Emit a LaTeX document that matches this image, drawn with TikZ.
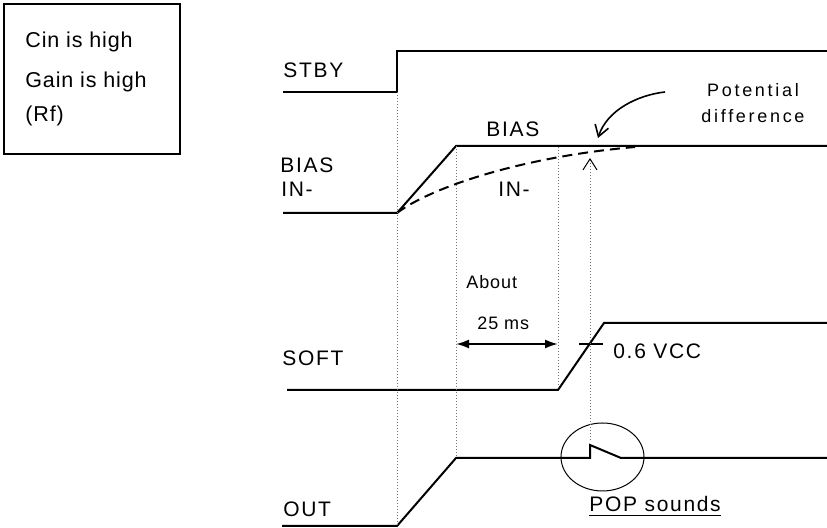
\documentclass[tikz,border=0pt]{standalone}
\usepackage{fontspec}
\setmainfont{Liberation Sans}
\newfontfamily\boxfont[LetterSpace=4]{Liberation Sans}
\newfontfamily\sigfont[LetterSpace=8]{Liberation Sans}
\newfontfamily\notefont[LetterSpace=15]{Liberation Sans}
\newfontfamily\timefont[LetterSpace=5]{Liberation Sans}
\usetikzlibrary{arrows.meta}

\tikzset{
  sig/.style={line width=1pt},
  guide/.style={densely dotted, line width=0.5pt, black!55},
  boxtext/.style={anchor=base west, inner sep=0pt, font=\fontsize{10.75}{13}\boxfont},
  sigtext/.style={anchor=base west, inner sep=0pt, font=\fontsize{10.5}{12}\sigfont},
  notetext/.style={anchor=base west, inner sep=0pt, font=\fontsize{9}{12}\notefont},
}

\begin{document}
\begin{tikzpicture}[x=0.5pt, y=-0.5pt]
            \useasboundingbox (0,0) rectangle (827,528);

            % Condition box
            \draw[line width=1pt] (4,4) rectangle (180,154);
            \node[boxtext] (cin) at (25,47.5) {Cin is high};
            \node[boxtext] (gain) at (25,88) {Gain is high};
            \node[boxtext] (rf) at (25,122) {(Rf)};

            % STBY
            \node[sigtext] (stby) at (283,78) {STBY};
            \coordinate (stbyL) at (283,92);
            \coordinate (stbyR) at (397,92);
            \coordinate (stbyH) at (397,51);
            \coordinate (stbyE) at (827,51);
            \draw[sig] (stbyL) -- (stbyR) -- (stbyH) -- (stbyE);

            % BIAS and IN-
            \node[sigtext] (biasin) at (280,172.5) {BIAS};
            \node[sigtext] (biasinb) at (281,196.5) {IN-};
            \coordinate (biasL) at (283,213);
            \coordinate (biasR) at (397,213);
            \coordinate (biasH) at (456,146);
            \coordinate (biasE) at (827,146);
            \coordinate (inE) at (635,147);
            \draw[sig] (biasL) -- (biasR) -- (biasH) -- (biasE);
            \draw[sig, dash pattern=on 5pt off 3pt] (biasR) .. controls (430,188) and (520,157) .. (inE);
            \node[sigtext] (bias) at (486,137) {BIAS};
            \node[sigtext] (inm) at (498,197) {IN-};

            % Potential difference
            \node[notetext, anchor=base] (pot) at (753,97) {Potential};
            \node[notetext, anchor=base] (diff) at (753,123) {difference};
            \coordinate (pdtail) at (665,92);
            \coordinate (pdtip) at (598,138);
            \draw[line width=0.8pt, -{Straight Barb[length=5.5pt,width=7pt]}] (pdtail) .. controls (638,95) and (607,110) .. (pdtip);

            % SOFT
            \node[sigtext] (soft) at (282,366) {SOFT};
            \coordinate (softL) at (287,390);
            \coordinate (softR) at (558,390);
            \coordinate (softH) at (604,323);
            \coordinate (softE) at (827,323);
            \draw[sig] (softL) -- (softR) -- (softH) -- (softE);
            \coordinate (tickL) at (579,344);
            \coordinate (tickR) at (603,344);
            \draw[sig] (tickL) -- (tickR);
            \node[sigtext] (vcc) at (613,358.5) {0.6 VCC};

            % About 25 ms
            \node[notetext, font=\fontsize{9}{12}\timefont] (about) at (466,288.5) {About};
            \node[notetext, font=\fontsize{9}{12}\timefont] (ms) at (477,329.5) {25 ms};
            \coordinate (msL) at (456,344);
            \coordinate (msR) at (558,344);
            \draw[sig, {Latex[length=6.5pt,width=4.5pt]}-{Latex[length=6.5pt,width=4.5pt]}] (msL) -- (msR);

            % OUT
            \node[sigtext] (out) at (283,517) {OUT};
            \coordinate (outL) at (282,526);
            \coordinate (outR) at (397,526);
            \coordinate (outH) at (456,458);
            \coordinate (popA) at (590,458);
            \coordinate (popB) at (590,445);
            \coordinate (popC) at (621,458);
            \coordinate (outE) at (827,458);
            \draw[sig] (outL) -- (outR) -- (outH) -- (popA) -- (popB) -- (popC) -- (outE);
            \draw[line width=0.5pt] (602.5,457) ellipse [x radius=20.75pt, y radius=17pt];
            \node[sigtext] (pop) at (589,512) {\underline{POP sounds}};

            % Timing guides
            \draw[guide] (stbyR) -- (outR);
            \draw[guide] (biasH) -- (outH);
            \coordinate (softTop) at (558,147);
            \draw[guide] (softTop) -- (softR);
            \coordinate (popmark) at (590,440);
            \coordinate (pdgap) at (590,158);
            \draw[guide, -{Straight Barb[length=5.5pt,width=7pt,color=black]}] (popmark) -- (pdgap);
        \end{tikzpicture}
\end{document}
